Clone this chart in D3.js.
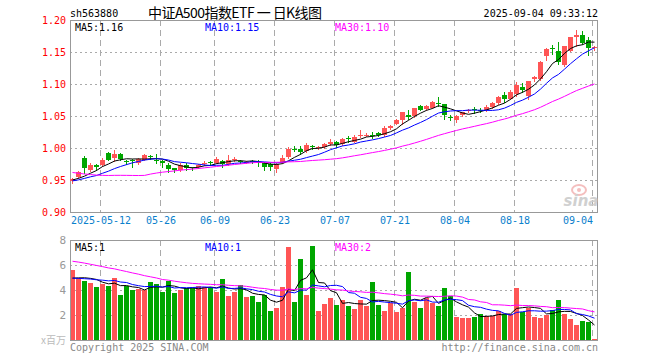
<!DOCTYPE html>
<html><head><meta charset="utf-8">
<script src="https://cdn.jsdelivr.net/npm/d3@7/dist/d3.min.js"></script>
<style>
html,body{margin:0;padding:0;background:#fff;}
svg{display:block;}
text{font-family:"DejaVu Sans Mono",monospace;font-size:10px;}
</style></head><body>
<svg id="c" width="660" height="360"></svg>
<script>
// ---------- data ----------
const dates = ["04-30","05-06","05-07","05-08","05-09","05-12","05-13","05-14","05-15","05-16",
"05-19","05-20","05-21","05-22","05-23","05-26","05-27","05-28","05-29","05-30",
"06-03","06-04","06-05","06-06","06-09","06-10","06-11","06-12","06-13","06-16",
"06-17","06-18","06-19","06-20","06-23","06-24","06-25","06-26","06-27","06-30",
"07-01","07-02","07-03","07-04","07-07","07-08","07-09","07-10","07-11","07-14",
"07-15","07-16","07-17","07-18","07-21","07-22","07-23","07-24","07-25","07-28",
"07-29","07-30","07-31","08-01","08-04","08-05","08-06","08-07","08-08","08-11",
"08-12","08-13","08-14","08-15","08-18","08-19","08-20","08-21","08-22","08-25",
"08-26","08-27","08-28","08-29","09-01","09-02","09-03","09-04"];
const open = [0.948,0.955,0.985,0.966,0.974,0.974,0.992,0.985,0.991,0.979,
0.981,0.977,0.982,0.987,0.982,0.979,0.974,0.968,0.966,0.974,
0.970,0.970,0.975,0.978,0.977,0.979,0.975,0.982,0.979,0.977,
0.979,0.978,0.977,0.975,0.967,0.977,0.986,0.999,0.998,0.995,
1.003,1.000,1.002,1.006,1.009,1.006,1.015,1.010,1.018,1.020,
1.021,1.023,1.021,1.031,1.038,1.044,1.051,1.050,1.066,1.061,
1.063,1.071,1.068,1.048,1.043,1.051,1.058,1.061,1.060,1.059,
1.064,1.071,1.083,1.077,1.085,1.096,1.081,1.108,1.108,1.143,
1.156,1.152,1.130,1.152,1.174,1.177,1.169,1.156];
const high = [0.953,0.964,0.987,0.976,0.975,0.984,0.993,0.997,0.992,0.981,
0.983,0.985,0.990,0.989,0.990,0.981,0.976,0.969,0.976,0.976,
0.971,0.975,0.979,0.980,0.986,0.982,0.989,0.986,0.982,0.980,
0.982,0.981,0.978,0.976,0.977,0.989,1.001,1.003,1.003,1.008,
1.004,1.003,1.008,1.014,1.011,1.016,1.018,1.021,1.028,1.023,
1.025,1.025,1.035,1.036,1.046,1.057,1.060,1.063,1.067,1.067,
1.073,1.080,1.069,1.052,1.051,1.057,1.061,1.064,1.062,1.067,
1.072,1.082,1.087,1.090,1.103,1.101,1.104,1.113,1.136,1.157,
1.161,1.166,1.160,1.174,1.184,1.183,1.174,1.160];
const low = [0.946,0.953,0.961,0.964,0.966,0.972,0.981,0.979,0.982,0.975,
0.971,0.975,0.981,0.983,0.977,0.970,0.963,0.963,0.964,0.965,
0.965,0.969,0.974,0.974,0.977,0.971,0.974,0.980,0.976,0.976,
0.976,0.972,0.966,0.966,0.963,0.976,0.984,0.995,0.990,0.993,
0.999,0.999,1.000,1.005,1.002,1.005,1.010,1.009,1.017,1.019,
1.016,1.018,1.019,1.030,1.037,1.038,1.046,1.049,1.059,1.059,
1.062,1.065,1.046,1.044,1.041,1.050,1.056,1.055,1.056,1.058,
1.063,1.069,1.072,1.076,1.082,1.087,1.076,1.104,1.107,1.138,
1.147,1.131,1.128,1.151,1.160,1.162,1.146,1.153];
const close = [0.951,0.962,0.968,0.973,0.970,0.982,0.982,0.991,0.983,0.978,
0.980,0.983,0.989,0.986,0.979,0.976,0.967,0.966,0.974,0.969,
0.968,0.973,0.977,0.977,0.983,0.975,0.982,0.983,0.978,0.978,
0.978,0.977,0.971,0.970,0.975,0.985,0.999,0.998,0.993,1.004,
1.002,1.001,1.007,1.010,1.004,1.014,1.014,1.017,1.020,1.021,
1.019,1.021,1.031,1.035,1.044,1.057,1.049,1.062,1.060,1.066,
1.072,1.070,1.051,1.047,1.050,1.056,1.059,1.060,1.059,1.064,
1.071,1.080,1.077,1.088,1.099,1.091,1.104,1.111,1.135,1.155,
1.155,1.135,1.159,1.173,1.176,1.164,1.156,1.158];
// volume, millions of shares
const volume = [5.6,5.0,4.75,4.6,4.27,4.5,4.35,5.0,3.63,4.3,
3.98,4.08,4.03,4.68,4.46,3.87,4.76,3.79,3.98,4.17,
4.17,4.35,4.22,4.27,3.87,4.87,3.55,3.82,4.43,3.41,
3.5,3.06,3.63,2.34,2.6,4.27,7.45,3.06,6.48,3.6,
7.5,2.34,2.9,3.4,2.77,3.23,2.69,2.5,3.23,2.69,
4.68,2.82,2.34,2.96,2.26,2.53,5.48,3.06,2.58,3.39,
2.93,2.69,4.19,3.55,1.88,1.77,1.77,1.88,2.1,1.94,
1.94,2.31,2.1,2.1,4.19,2.23,2.58,1.88,1.77,1.99,
2.37,3.23,2.1,1.72,1.24,1.5,1.45,0.08];
// preceding sessions (not drawn; estimated from where the moving-average lines start)
const priorClose = [1.000,1.002,0.998,0.996,0.994,0.988,0.985,0.982,0.980,0.984,
0.986,0.983,0.925,0.930,0.935,0.938,0.935,0.940,0.942,0.944,
0.946,0.945,0.948,0.950,0.947,0.949,0.951,0.950,0.949];
const priorVolume = [7.0,7.2,7.4,7.1,7.3,7.5,7.2,7.0,7.4,7.3,
7.1,7.6,7.4,7.3,7.5,6.4,6.2,6.0,5.9,5.7,
5.2,5.0,4.9,4.85,4.8,4.9,4.7,4.85,4.7];
const priceTicks = [1.20,1.15,1.10,1.05,1.00,0.95,0.90];
const volTicks = [8,6,4,2];
const dateTickDates = ["05-12","05-26","06-09","06-23","07-07","07-21","08-04","08-18","09-04"];
const dateTickLabels = ["2025-05-12","05-26","06-09","06-23","07-07","07-21","08-04","08-18","09-04"];
const maPeriods = [5,10,30];
const maNames = ["MA5","MA10","MA30"];

// ---------- styles ----------
const RED = "#ff5555", GREEN = "#00a600";
const maColors = ["#000000","#0000ff","#ff00ff"];
const GRID = "#aaaaaa", BORDER = "#999999";

const svg = d3.select("#c");
const N = dates.length;
const L = 70, R = 598;
const xi = d3.scaleLinear().domain([0, N]).range([L, R]);
const yP = d3.scaleLinear().domain([0.90, 1.20]).range([212, 20]);
const yV = d3.scaleLinear().domain([0, 8]).range([340, 240]);
const px = v => Math.round(v) + 0.5;

function ma(series, prior, n) {
  const all = prior.concat(series);
  return series.map((_, i) => {
    const j = prior.length + i;
    return d3.mean(all.slice(j - n + 1, j + 1));
  });
}
const pMA = maPeriods.map(n => ma(close, priorClose, n));
const vMA = maPeriods.map(n => ma(volume, priorVolume, n));

// ---------- header ----------
svg.append("text").attr("x", 70).attr("y", 17).text("sh563880");
svg.append("text").attr("x", 148).attr("y", 18)
  .attr("textLength", 174).attr("lengthAdjust", "spacing")
  .style("font-family", "'Noto Sans CJK SC',sans-serif").style("font-size", "14px")
  .text("中证A500指数ETF 一 日K线图");
svg.append("text").attr("x", 598).attr("y", 17).attr("text-anchor", "end").text("2025-09-04 09:33:12");

const tickIdx = dateTickDates.map(d => dates.indexOf(d));

// ---------- price panel ----------
const gP = svg.append("g");
gP.selectAll("line.hg").data(priceTicks.slice(1, -1)).join("line")
  .attr("x1", L).attr("x2", 597).attr("y1", d => px(yP(d))).attr("y2", d => px(yP(d)))
  .attr("stroke", GRID).attr("stroke-dasharray", "2,3");
gP.selectAll("line.vg").data(tickIdx).join("line")
  .attr("x1", d => px(xi(d))).attr("x2", d => px(xi(d))).attr("y1", 20).attr("y2", 212)
  .attr("stroke", GRID).attr("stroke-dasharray", "6,4");
gP.append("rect").attr("x", L + 0.5).attr("y", 20.5).attr("width", 527).attr("height", 192)
  .attr("fill", "none").attr("stroke", BORDER);

// watermark
const wm = gP.append("g").attr("opacity", 0.9);
wm.append("ellipse").attr("cx", 579).attr("cy", 190).attr("rx", 7).attr("ry", 5)
  .attr("fill", "none").attr("stroke", "#f3b8b8").attr("stroke-width", 2);
wm.append("circle").attr("cx", 579).attr("cy", 190).attr("r", 2).attr("fill", "#f3b8b8");
wm.append("text").attr("x", 581).attr("y", 206).attr("text-anchor", "middle")
  .style("font-family", "'DejaVu Sans',sans-serif").style("font-size", "15px")
  .style("font-style", "italic").style("font-weight", "bold").attr("fill", "#cccccc").text("sina");

// price axis
const axP = svg.append("g").attr("transform", `translate(${L},0)`)
  .call(d3.axisLeft(yP).tickValues(priceTicks).tickSize(0).tickPadding(4).tickFormat(d3.format(".2f")));
axP.select(".domain").remove();
axP.selectAll("text").attr("fill", "#ff0000").style("font-family", "'DejaVu Sans Mono',monospace").style("font-size", "10px");

// date axis
const axX = svg.append("g").attr("transform", "translate(0.5,214)")
  .call(d3.axisBottom(xi).tickValues(tickIdx).tickSize(0).tickPadding(3)
    .tickFormat((d, i) => dateTickLabels[i]));
axX.select(".domain").remove();
axX.selectAll("text").attr("fill", "#0a80cc").style("font-family", "'DejaVu Sans Mono',monospace").style("font-size", "10px");
axX.selectAll(".tick").filter((d, i) => i === tickIdx.length - 1).select("text").attr("text-anchor", "end");

// candles
const cg = gP.append("g").attr("shape-rendering", "crispEdges");
const idx = d3.range(N);
cg.selectAll("line.wick").data(idx).join("line")
  .attr("x1", i => xi(i) + 2.5).attr("x2", i => xi(i) + 2.5)
  .attr("y1", i => Math.round(yP(high[i]))).attr("y2", i => Math.round(yP(low[i])) + 1)
  .attr("stroke", i => close[i] >= open[i] ? RED : GREEN);
cg.selectAll("rect.body").data(idx).join("rect")
  .attr("x", i => xi(i)).attr("width", 5)
  .attr("y", i => Math.round(yP(Math.max(open[i], close[i]))))
  .attr("height", i => Math.max(1, Math.round(yP(Math.min(open[i], close[i]))) - Math.round(yP(Math.max(open[i], close[i])))))
  .attr("fill", i => close[i] >= open[i] ? RED : GREEN);

// price MA lines
pMA.forEach((s, k) => {
  gP.append("path").datum(s)
    .attr("d", d3.line().x((d, i) => xi(i) + 2.5).y(d => yP(d)))
    .attr("fill", "none").attr("stroke", maColors[k]).attr("stroke-width", 1);
});
const floor2 = v => (Math.floor(v * 100 + 1e-7) / 100).toFixed(2);
const labX = [75, 205, 335];
maNames.forEach((nm, k) => {
  svg.append("text").attr("x", labX[k]).attr("y", 31).attr("fill", maColors[k])
    .text(nm + ":" + floor2(pMA[k][N - 1]));
});

// ---------- volume panel ----------
const gV = svg.append("g");
gV.selectAll("line.hg").data(volTicks.slice(1)).join("line")
  .attr("x1", L).attr("x2", 597).attr("y1", d => px(yV(d))).attr("y2", d => px(yV(d)))
  .attr("stroke", GRID).attr("stroke-dasharray", "2,3");
gV.selectAll("line.vg").data(tickIdx).join("line")
  .attr("x1", d => px(xi(d))).attr("x2", d => px(xi(d))).attr("y1", 240).attr("y2", 340)
  .attr("stroke", GRID).attr("stroke-dasharray", "6,4");
gV.append("g").attr("shape-rendering", "crispEdges")
  .selectAll("rect").data(idx).join("rect")
  .attr("x", i => xi(i)).attr("width", 5)
  .attr("y", i => Math.round(yV(volume[i])))
  .attr("height", i => Math.max(1, 340 - Math.round(yV(volume[i]))))
  .attr("fill", i => close[i] >= open[i] ? RED : GREEN);
gV.append("rect").attr("x", L + 0.5).attr("y", 240.5).attr("width", 527).attr("height", 100)
  .attr("fill", "none").attr("stroke", BORDER);
vMA.forEach((s, k) => {
  gV.append("path").datum(s)
    .attr("d", d3.line().x((d, i) => xi(i) + 2.5).y(d => yV(d)))
    .attr("fill", "none").attr("stroke", maColors[k]).attr("stroke-width", 1);
});
maNames.forEach((nm, k) => {
  svg.append("text").attr("x", labX[k]).attr("y", 251).attr("fill", maColors[k])
    .text(nm + ":" + Math.floor(vMA[k][N - 1]));
});
const axV = svg.append("g").attr("transform", `translate(${L},0)`)
  .call(d3.axisLeft(yV).tickValues(volTicks).tickSize(0).tickPadding(4).tickFormat(d3.format("d")));
axV.select(".domain").remove();
axV.selectAll("text").attr("fill", "#999999").style("font-family", "'DejaVu Sans Mono',monospace").style("font-size", "11px");

svg.append("text").attr("x", 66).attr("y", 344).attr("text-anchor", "end").attr("fill", "#bbbbbb")
  .style("font-family", "'Noto Sans CJK SC',sans-serif").style("font-size", "10px").text("x百万");
svg.append("text").attr("x", 70).attr("y", 351).attr("fill", "#888888").text("Copyright 2025 SINA.COM");
svg.append("text").attr("x", 598).attr("y", 351).attr("text-anchor", "end").attr("fill", "#888888").text("http://finance.sina.com.cn");
</script>
</body></html>
